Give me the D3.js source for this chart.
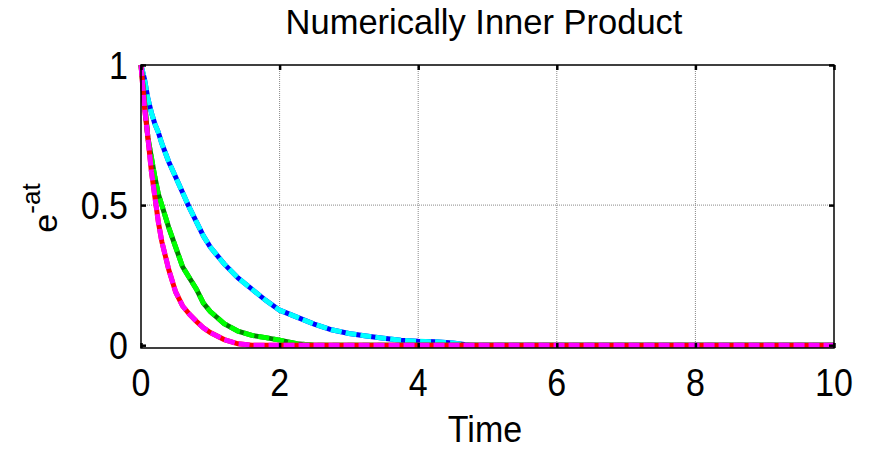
<!DOCTYPE html>
<html>
<head>
<meta charset="utf-8">
<script src="https://cdn.jsdelivr.net/npm/d3@7"></script>
<style>
  body { margin: 0; background: #fff; }
  text { font-family: Arial, "Liberation Sans", sans-serif; fill: #000; }
</style>
</head>
<body>
<svg id="chart" width="869" height="450"></svg>
<script>
// sample times and the three numerically computed decays
var timeVals = [0, 0.05, 0.1, 0.15, 0.2, 0.25, 0.3, 0.4, 0.5, 0.6, 0.7, 0.8, 0.9, 1.0,
                1.2, 1.4, 1.6, 1.8, 2.0, 2.25, 2.5, 2.75, 3.0, 3.25, 3.5, 3.75, 4.0,
                4.25, 4.5, 4.75, 5, 6, 7, 8, 9, 10];
var decayA1 = [1, 0.95, 0.88, 0.83, 0.79, 0.76, 0.72, 0.655, 0.6, 0.545, 0.49, 0.44, 0.39, 0.35,
               0.29, 0.24, 0.2, 0.16, 0.125, 0.1, 0.075, 0.055, 0.042, 0.033, 0.025, 0.018, 0.014,
               0.012, 0.008, 0, 0, 0, 0, 0, 0, 0];
var decayA2 = [1, 0.87, 0.74, 0.67, 0.6, 0.54, 0.5, 0.42, 0.35, 0.28, 0.24, 0.2, 0.15, 0.12,
               0.077, 0.05, 0.035, 0.027, 0.018, 0.005, 0, 0, 0, 0, 0, 0, 0,
               0, 0, 0, 0, 0, 0, 0, 0, 0];
var decayA3 = [1, 0.85, 0.74, 0.62, 0.53, 0.44, 0.37, 0.27, 0.19, 0.14, 0.11, 0.085, 0.062, 0.045,
               0.02, 0.005, 0, 0, 0, 0, 0, 0, 0, 0, 0, 0, 0,
               0, 0, 0, 0, 0, 0, 0, 0, 0];
var xTicks = [0, 2, 4, 6, 8, 10];
var yTicks = [0, 0.5, 1];

var series = [
    { values: decayA1, base: "#0000ff", over: "#00ffff" },
    { values: decayA2, base: "#007f00", over: "#00ff00" },
    { values: decayA3, base: "#ff0000", over: "#ff00ff" }
];

var svg = d3.select("#chart"),
    pLeft = 141, pRight = 834, pTop = 65, pBottom = 348;

var x = d3.scaleLinear().domain([0, 10]).range([pLeft, pRight]),
    y = d3.scaleLinear().domain([-0.01, 1]).range([pBottom, pTop]);

// grid
svg.selectAll(".gx")
   .data(xTicks.slice(1, -1))
   .enter().append("line")
   .attr("x1", function(d) { return x(d); })
   .attr("x2", function(d) { return x(d); })
   .attr("y1", pTop).attr("y2", pBottom)
   .attr("stroke", "#888").attr("stroke-width", 1)
   .attr("stroke-dasharray", "1,1");

svg.selectAll(".gy")
   .data([0.5])
   .enter().append("line")
   .attr("x1", pLeft).attr("x2", pRight)
   .attr("y1", function(d) { return y(d); })
   .attr("y2", function(d) { return y(d); })
   .attr("stroke", "#888").attr("stroke-width", 1)
   .attr("stroke-dasharray", "1,1");

// curves: solid base plus dashed overlay
var line = d3.line()
    .x(function(d, i) { return x(timeVals[i]); })
    .y(function(d) { return y(d); });

series.forEach(function(s) {
    svg.append("path")
       .attr("d", line(s.values))
       .attr("fill", "none")
       .attr("stroke", s.base)
       .attr("stroke-width", 5);
    svg.append("path")
       .attr("d", line(s.values))
       .attr("fill", "none")
       .attr("stroke", s.over)
       .attr("stroke-width", 5)
       .attr("stroke-dasharray", "11,4");
});

// box
svg.append("rect")
   .attr("x", pLeft).attr("y", pTop)
   .attr("width", pRight - pLeft).attr("height", pBottom - pTop)
   .attr("fill", "none").attr("stroke", "#000").attr("stroke-width", 1.5);

// inner ticks
var axB = d3.axisBottom(x).tickValues(xTicks).tickSize(-5).tickFormat(""),
    axT = d3.axisTop(x).tickValues(xTicks).tickSize(-5).tickFormat(""),
    axL = d3.axisLeft(y).tickValues(yTicks).tickSize(-5).tickFormat(""),
    axR = d3.axisRight(y).tickValues(yTicks).tickSize(-5).tickFormat("");

[[axB, "translate(0," + pBottom + ")"], [axT, "translate(0," + pTop + ")"],
 [axL, "translate(" + pLeft + ",0)"], [axR, "translate(" + pRight + ",0)"]].forEach(function(a) {
    var g = svg.append("g").attr("transform", a[1]).call(a[0]);
    g.select(".domain").remove();
    g.selectAll("line").attr("stroke", "#000").attr("stroke-width", 2.5);
});

// tick labels (slightly tall, as in the original export)
svg.selectAll(".xl")
   .data(xTicks)
   .enter().append("text")
   .attr("transform", function(d) { return "translate(" + x(d) + ",396) scale(1,1.12)"; })
   .attr("text-anchor", "middle")
   .attr("font-size", "34px")
   .text(function(d) { return d; });

svg.selectAll(".yl")
   .data(yTicks)
   .enter().append("text")
   .attr("transform", function(d) { return "translate(128," + (y(d) + 14) + ") scale(1,1.12)"; })
   .attr("text-anchor", "end")
   .attr("font-size", "34px")
   .text(function(d) { return d; });

// titles
svg.append("text")
   .attr("x", 484).attr("y", 34)
   .attr("text-anchor", "middle")
   .attr("font-size", "34.5px")
   .text("Numerically Inner Product");

svg.append("text")
   .attr("transform", "translate(485,442) scale(1,1.1)")
   .attr("text-anchor", "middle")
   .attr("font-size", "34px")
   .text("Time");

var yl = svg.append("text")
   .attr("transform", "translate(57,208) rotate(-90)")
   .attr("text-anchor", "middle")
   .attr("font-size", "34px");
yl.append("tspan").text("e");
yl.append("tspan").attr("dy", -17).attr("font-size", "26px").text("-at");
</script>
</body>
</html>
